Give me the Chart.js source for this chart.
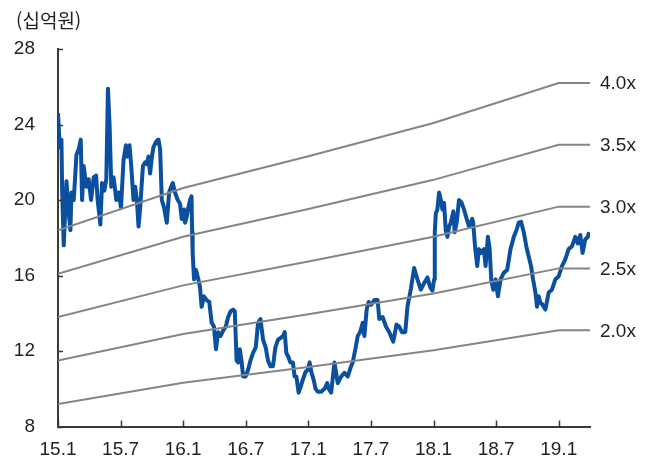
<!DOCTYPE html>
<html lang="ko">
<head>
<meta charset="UTF-8">
<title>PBR Band</title>
<script src="https://cdn.jsdelivr.net/npm/chart.js@4.4.0/dist/chart.umd.min.js"></script>
<style>
    body { margin: 0; background: #fff; }
    #wrap { position: relative; width: 656px; height: 461px; }
    #unit { position: absolute; left: 16px; top: 6px; font-family: "Noto Sans CJK KR", sans-serif; font-size: 19px; color: #231f20; }
</style>
</head>
<body>
<div id="wrap">
    <div id="unit">(십억원)</div>
    <canvas id="chart" width="656" height="461"></canvas>
</div>
<script>
// x positions are months counted from 2015.01
const xTickPos = [0, 6, 12, 18, 24, 30, 36, 42, 48];
const xTickLabels = ["15.1", "15.7", "16.1", "16.7", "17.1", "17.7", "18.1", "18.7", "19.1"];
const yTicks = [8, 12, 16, 20, 24, 28];

// market cap (십억원)
const priceMonths = [
    0.0, 0.17, 0.33, 0.4, 0.55, 0.81, 1.03, 1.19, 1.29, 1.51, 1.77, 1.99, 2.18, 2.31, 2.46, 2.72, 2.94, 3.17, 3.42, 3.65,
    3.8, 4.06, 4.22, 4.44, 4.63, 4.79, 4.95, 5.11, 5.33, 5.59, 5.81, 6.04, 6.28, 6.51, 6.67, 6.86, 7.02, 7.24, 7.4, 7.56,
    7.72, 7.88, 8.14, 8.36, 8.52, 8.67, 8.83, 9.0, 9.15, 9.41, 9.63, 9.79, 9.95, 10.17, 10.43, 10.65, 10.84, 11.0, 11.22, 11.48,
    11.7, 11.86, 12.08, 12.18, 12.34, 12.49, 12.66, 12.8, 12.86, 12.91, 13.04, 13.23, 13.45, 13.61, 13.77, 13.99, 14.25, 14.5, 14.73, 14.95,
    15.14, 15.36, 15.59, 15.84, 16.09, 16.31, 16.54, 16.79, 16.95, 17.12, 17.27, 17.43, 17.59, 17.75, 17.98, 18.22, 18.45, 18.7, 18.96, 19.18,
    19.41, 19.66, 19.91, 20.13, 20.36, 20.61, 20.84, 21.09, 21.35, 21.57, 21.73, 21.89, 22.08, 22.27, 22.52, 22.68, 22.85, 23.07, 23.26, 23.48,
    23.73, 23.95, 24.12, 24.28, 24.5, 24.69, 24.91, 25.23, 25.55, 25.81, 25.96, 26.19, 26.5, 26.82, 27.14, 27.46, 27.77, 28.1, 28.25, 28.51,
    28.73, 28.96, 29.21, 29.37, 29.59, 29.78, 30.01, 30.33, 30.64, 30.8, 31.12, 31.44, 31.76, 32.14, 32.45, 32.71, 32.97, 33.29, 33.5, 33.83,
    34.14, 34.46, 34.78, 35.1, 35.42, 35.67, 35.89, 36.06, 36.12, 36.22, 36.37, 36.53, 36.7, 36.85, 37.01, 37.17, 37.33, 37.49, 37.65, 37.9,
    38.03, 38.22, 38.44, 38.66, 38.92, 39.18, 39.4, 39.71, 39.8, 40.0, 40.19, 40.35, 40.57, 40.83, 40.99, 41.21, 41.38, 41.53, 41.72, 41.95,
    42.17, 42.43, 42.74, 43.06, 43.38, 43.7, 43.95, 44.17, 44.39, 44.65, 44.91, 45.13, 45.35, 45.54, 45.77, 45.92, 46.08, 46.25, 46.4, 46.72,
    47.04, 47.35, 47.68, 47.99, 48.31, 48.63, 48.95, 49.27, 49.59, 49.84, 50.07, 50.29, 50.54, 50.79, 50.92
];
const priceValues = [
    24.6, 22.8, 23.2, 20.4, 17.6, 21.0, 19.3, 18.4, 20.4, 20.0, 22.4, 22.7, 23.2, 20.0, 21.8, 20.7, 21.1, 20.0, 21.2, 21.3,
    20.0, 18.7, 20.9, 20.5, 21.1, 25.9, 23.9, 20.7, 21.2, 20.0, 20.4, 19.6, 22.1, 22.9, 22.3, 22.9, 21.8, 20.0, 20.7, 20.0,
    18.6, 19.6, 21.8, 22.0, 21.9, 22.3, 21.4, 22.3, 22.8, 23.1, 23.2, 22.7, 20.0, 19.6, 18.8, 20.4, 20.7, 20.9, 20.4, 20.0,
    19.8, 19.0, 19.5, 18.8, 19.1, 19.6, 20.0, 20.2, 18.3, 17.2, 15.8, 16.3, 15.8, 15.4, 14.35, 14.9, 14.7, 14.6, 13.5, 13.3,
    12.1, 13.0, 12.8, 13.1, 13.3, 13.8, 14.1, 14.2, 14.1, 11.5, 11.4, 12.1, 11.5, 10.65, 10.65, 11.0, 11.5, 11.9, 12.2, 13.5,
    13.7, 12.6, 12.2, 11.5, 11.2, 11.2, 12.2, 12.6, 12.7, 12.8, 13.0, 11.9, 11.7, 11.4, 11.4, 10.65, 10.65, 9.8, 10.1, 10.5,
    10.9, 11.0, 11.4, 10.9, 10.5, 10.0, 9.85, 9.85, 10.0, 10.3, 10.0, 9.8, 11.4, 10.3, 10.65, 10.85, 10.65, 11.2, 11.4, 12.1,
    12.8, 13.0, 13.5, 12.8, 14.2, 14.6, 14.45, 14.7, 14.7, 13.7, 13.8, 13.3, 13.0, 12.5, 13.4, 13.3, 13.0, 13.0, 14.35, 15.3,
    16.4, 15.8, 15.25, 15.6, 15.9, 15.4, 15.2, 15.8, 18.3, 19.3, 19.5, 20.4, 20.0, 19.5, 19.85, 18.4, 18.05, 18.6, 18.8, 19.4,
    18.3, 18.8, 20.0, 19.9, 19.5, 19.0, 18.6, 19.0, 18.8, 17.4, 16.5, 17.4, 17.2, 17.4, 16.5, 18.05, 17.4, 15.8, 15.25, 15.8,
    14.9, 15.8, 16.15, 16.3, 17.4, 18.05, 18.4, 18.8, 18.85, 18.3, 17.5, 17.0, 16.5, 15.8, 15.1, 14.35, 14.9, 14.55, 14.5, 14.2,
    15.1, 15.25, 15.8, 15.95, 16.5, 16.85, 17.4, 17.55, 18.05, 17.7, 18.15, 17.2, 17.9, 18.05, 18.3
];

// PBR band lines, yearly points then flat to the end
const bandMonths = [0, 12, 24, 36, 48, 51];
const bandNames = ["4.0x", "3.5x", "3.0x", "2.5x", "2.0x"];
const band40 = [18.4, 20.64, 22.32, 24.08, 26.2, 26.2];
const band35 = [16.1, 18.06, 19.53, 21.07, 22.93, 22.93];
const band30 = [13.8, 15.48, 16.74, 18.06, 19.65, 19.65];
const band25 = [11.5, 12.9, 13.95, 15.05, 16.38, 16.38];
const band20 = [9.2, 10.32, 11.16, 12.04, 13.1, 13.1];
const bandValues = [band40, band35, band30, band25, band20];

const textColor = "#231f20";
const numFont = { family: "'Liberation Sans', Arial, sans-serif", size: 19 };

function zip(xs, ys) {
    return xs.map((x, i) => ({ x: x, y: ys[i] }));
}

const bandSets = bandValues.map((vals, i) => ({
    label: bandNames[i],
    data: zip(bandMonths, vals),
    borderColor: "#858585",
    borderWidth: 2,
    pointRadius: 0,
    tension: 0,
    order: 0
}));

const priceSet = {
    label: "시가총액",
    data: zip(priceMonths, priceValues),
    borderColor: "#0a509e",
    borderWidth: 4,
    pointRadius: 0,
    tension: 0,
    borderJoinStyle: "round",
    order: 1
};

// inward tick marks and band labels on the right
const extras = {
    id: "extras",
    afterDatasetsDraw(chart) {
        const ctx = chart.ctx;
        const xs = chart.scales.x, ys = chart.scales.y;
        const area = chart.chartArea;
        ctx.save();
        ctx.strokeStyle = "#3a3a3a";
        ctx.lineWidth = 1.5;
        ctx.beginPath();
        yTicks.forEach(v => {
            const py = Math.round(ys.getPixelForValue(v)) + 0.5;
            ctx.moveTo(area.left, py);
            ctx.lineTo(area.left + 5, py);
        });
        xTickPos.forEach(v => {
            const px = Math.round(xs.getPixelForValue(v)) + 0.5;
            ctx.moveTo(px, area.bottom);
            ctx.lineTo(px, area.bottom - 6);
        });
        ctx.stroke();

        ctx.fillStyle = textColor;
        ctx.font = numFont.size + "px " + numFont.family;
        ctx.textAlign = "left";
        ctx.textBaseline = "middle";
        bandValues.forEach((vals, i) => {
            const py = ys.getPixelForValue(vals[vals.length - 1]);
            ctx.fillText(bandNames[i], area.right + 10, py + 1);
        });
        ctx.restore();
    }
};

new Chart(document.getElementById("chart"), {
    type: "line",
    data: { datasets: [priceSet].concat(bandSets) },
    options: {
        responsive: false,
        animation: false,
        layout: { padding: { top: 49, right: 66, left: 0, bottom: 0 } },
        plugins: { legend: { display: false }, tooltip: { enabled: false } },
        scales: {
            x: {
                type: "linear",
                min: 0,
                max: 51,
                afterBuildTicks: s => { s.ticks = xTickPos.map(v => ({ value: v })); },
                afterFit: s => { s.height = 34; },
                grid: { display: false, drawTicks: false },
                border: { display: true, color: "#3a3a3a", width: 2 },
                ticks: {
                    padding: 12,
                    color: textColor,
                    font: numFont,
                    maxRotation: 0,
                    autoSkip: false,
                    callback: v => xTickLabels[xTickPos.indexOf(v)]
                }
            },
            y: {
                min: 8,
                max: 28,
                afterBuildTicks: s => { s.ticks = yTicks.map(v => ({ value: v })); },
                afterFit: s => { s.width = 58; },
                grid: { display: false, drawTicks: false },
                border: { display: true, color: "#3a3a3a", width: 2 },
                ticks: { padding: 23, color: textColor, font: numFont }
            }
        }
    },
    plugins: [extras]
});
</script>
</body>
</html>
